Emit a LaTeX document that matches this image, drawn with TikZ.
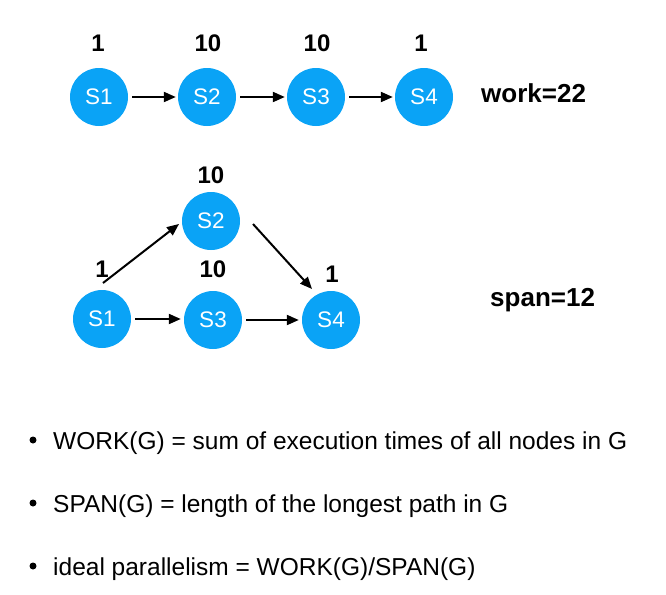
\documentclass[tikz,border=0pt]{standalone}
\usepackage{fontspec}
\setmainfont{Liberation Sans}
\usetikzlibrary{arrows.meta}
\definecolor{nodeblue}{RGB}{10,163,246}
\begin{document}
\begin{tikzpicture}[x=1pt,y=-1pt,
  task/.style={circle,fill=nodeblue,draw=none,minimum size=58pt,inner sep=0pt,
    text=white,font=\fontsize{22.5}{26}\selectfont},
  wlabel/.style={font=\fontsize{24}{28}\selectfont\bfseries,inner sep=0pt,anchor=base},
  sumlabel/.style={font=\fontsize{26}{30}\selectfont\bfseries,inner sep=0pt,anchor=base west},
  arr/.style={line width=2pt,-{Triangle[length=12pt,width=10pt]}},
  bul/.style={anchor=base west,inner sep=0pt,font=\fontsize{24.5}{29}\selectfont},
  dot/.style={circle,fill=black,inner sep=0pt,minimum size=7pt}]
\useasboundingbox (0,0) rectangle (666,594);
% top chain
\node[task] (a1) at (99,97) {S1};
\node[task] (a2) at (207,97) {S2};
\node[task] (a3) at (316,97) {S3};
\node[task] (a4) at (424,97) {S4};
\node[wlabel] (la1) at (98,52) {1};
\node[wlabel] (la2) at (208,52) {10};
\node[wlabel] (la3) at (317,52) {10};
\node[wlabel] (la4) at (421,52) {1};
\draw[arr,shorten <=4pt,shorten >=2pt] (a1) -- (a2);
\draw[arr,shorten <=4pt,shorten >=2pt] (a2) -- (a3);
\draw[arr,shorten <=4pt,shorten >=2pt] (a3) -- (a4);
\node[sumlabel] (work) at (481,102) {work=22};
% dag
\node[task] (b1) at (102,319) {S1};
\node[task] (b2) at (211,221) {S2};
\node[task] (b3) at (213,320) {S3};
\node[task] (b4) at (331,320) {S4};
\node[wlabel] (lb2) at (211,183) {10};
\node[wlabel] (lb3) at (213,277) {10};
\node[wlabel] (lb1) at (102,277) {1};
\node[wlabel] (lb4) at (332,282) {1};
\coordinate (c1) at (103,283);
\coordinate (c2) at (179,224);
\coordinate (c3) at (253,224);
\coordinate (c4) at (312,289);
\draw[arr] (c1) -- (c2);
\draw[arr] (c3) -- (c4);
\draw[arr,shorten <=4pt,shorten >=3pt] (b1.east) -- (b3.west |- b1.east);
\draw[arr,shorten <=4pt,shorten >=3pt] (b3) -- (b4);
\node[sumlabel] (span) at (490,306) {span=12};
% bullets
\node[bul] (t1) at (53,449) {WORK(G) = sum of execution times of all nodes in G};
\node[bul] (t2) at (53,512) {SPAN(G) = length of the longest path in G};
\node[bul] (t3) at (53,575) {ideal parallelism = WORK(G)/SPAN(G)};
\node[dot] (d1) at (33,440) {};
\node[dot] (d2) at (33,503) {};
\node[dot] (d3) at (33,566) {};
\end{tikzpicture}
\end{document}
